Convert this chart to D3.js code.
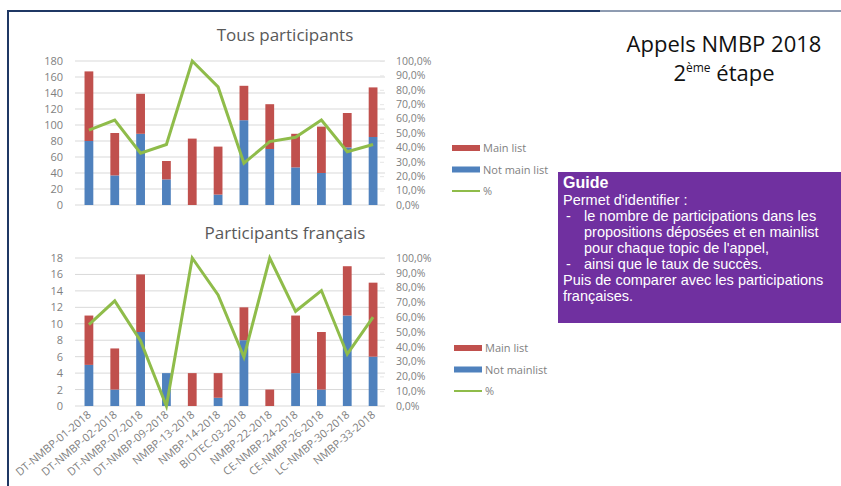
<!DOCTYPE html>
<html><head><meta charset="utf-8">
<script src="https://cdn.jsdelivr.net/npm/d3@7/dist/d3.min.js"></script>
<style>body{margin:0;background:#fff;}svg{display:block;}</style>
</head><body>
<svg id="c" width="841" height="486"></svg>
<script>
const categories = ["DT-NMBP-01-2018","DT-NMBP-02-2018","DT-NMBP-07-2018","DT-NMBP-09-2018","NMBP-13-2018","NMBP-14-2018","BIOTEC-03-2018","NMBP-22-2018","CE-NMBP-24-2018","CE-NMBP-26-2018","LC-NMBP-30-2018","NMBP-33-2018"];
// Tous participants
const allNotMain = [80, 37, 89, 32, 0, 13, 106, 70, 47, 40, 72, 85];
const allMain    = [87, 53, 50, 23, 83, 60, 43, 56, 42, 58, 43, 62];
const allPct     = [0.52, 0.59, 0.36, 0.42, 1.00, 0.82, 0.29, 0.44, 0.47, 0.59, 0.37, 0.42];
// Participants français
const frNotMain = [5, 2, 9, 4, 0, 1, 8, 0, 4, 2, 11, 6];
const frMain    = [6, 5, 7, 0, 4, 3, 4, 2, 7, 7, 6, 9];
const frPct     = [0.55, 0.71, 0.44, 0.00, 1.00, 0.75, 0.33, 1.00, 0.64, 0.78, 0.35, 0.60];
const allTicks = [0,20,40,60,80,100,120,140,160,180];
const frTicks = [0,2,4,6,8,10,12,14,16,18];
const pctTicks = [0,0.1,0.2,0.3,0.4,0.5,0.6,0.7,0.8,0.9,1.0];

const svg = d3.select("#c");
const C = {red:"#c0504d", blue:"#4f81bd", green:"#8fbc4a", grid:"#d9d9d9", txt:"#7f7f7f"};
const FONT = "'Open Sans', sans-serif";

// frame
svg.append("line").attr("x1",7).attr("x2",600).attr("y1",11).attr("y2",11).attr("stroke","#1f3864").attr("stroke-width",2);
svg.append("line").attr("x1",600).attr("x2",841).attr("y1",11).attr("y2",11).attr("stroke","#1f3864").attr("stroke-width",1);
svg.append("line").attr("x1",8).attr("x2",8).attr("y1",10).attr("y2",486).attr("stroke","#1f3864").attr("stroke-width",2);

const x = d3.scaleBand().domain(categories).range([76,386]).paddingInner(0.66).paddingOuter(0.33);

function chart(o){
  const g = svg.append("g");
  const y = d3.scaleLinear().domain([0,o.max]).range([o.y0,o.y1]);
  const yp = d3.scaleLinear().domain([0,1]).range([o.y0,o.y1]);
  g.append("g").selectAll("line").data(o.ticks).join("line")
    .attr("x1",75).attr("x2",385).attr("y1",d=>y(d)).attr("y2",d=>y(d))
    .attr("stroke",C.grid).attr("stroke-width",1);
  const la = g.append("g").attr("transform","translate(66,0)")
    .call(d3.axisLeft(y).tickValues(o.ticks).tickSize(0).tickPadding(3));
  la.select(".domain").remove();
  la.selectAll("text").attr("fill",C.txt).style("font-family",FONT).style("font-size","11px");
  const ra = g.append("g").attr("transform","translate(380,0)")
    .call(d3.axisRight(yp).tickValues(pctTicks).tickSize(4).tickPadding(12)
      .tickFormat(d=>d3.format(".1f")(d*100).replace(".",",")+"%"));
  ra.select(".domain").remove();
  ra.selectAll("line").attr("stroke","#e6e6e6");
  ra.selectAll("text").attr("fill",C.txt).style("font-family",FONT).style("font-size","10.5px").attr("text-anchor","start");
  const data = categories.map((c,i)=>({c, nm:o.nm[i], m:o.m[i], p:o.p[i]}));
  g.append("g").selectAll("rect").data(data).join("rect")
    .attr("x",d=>x(d.c)).attr("width",x.bandwidth())
    .attr("y",d=>y(d.nm)).attr("height",d=>y(0)-y(d.nm)).attr("fill",C.blue);
  g.append("g").selectAll("rect").data(data).join("rect")
    .attr("x",d=>x(d.c)).attr("width",x.bandwidth())
    .attr("y",d=>y(d.nm+d.m)).attr("height",d=>y(d.nm)-y(d.nm+d.m)).attr("fill",C.red);
  g.append("path").datum(data)
    .attr("d",d3.line().x(d=>x(d.c)+x.bandwidth()/2).y(d=>yp(d.p)))
    .attr("fill","none").attr("stroke",C.green).attr("stroke-width",3).attr("stroke-linejoin","miter");
  g.append("text").attr("x",285).attr("y",o.ty).attr("text-anchor","middle")
    .attr("fill","#595959").style("font-family",FONT).style("font-size","17px").text(o.title);
  const lg = g.append("g");
  o.leg.forEach((L,i)=>{
    const yy = o.ly + i*21.5;
    if (L.line) lg.append("line").attr("x1",o.lx).attr("x2",o.lx+28).attr("y1",yy).attr("y2",yy).attr("stroke",L.c).attr("stroke-width",2);
    else lg.append("rect").attr("x",o.lx).attr("y",yy-3).attr("width",28).attr("height",6).attr("fill",L.c);
    lg.append("text").attr("x",o.lx+31).attr("y",yy+4).attr("fill",C.txt)
      .style("font-family",FONT).style("font-size","11px").text(L.t);
  });
  return g;
}

chart({max:180, ticks:allTicks, y0:205, y1:61, nm:allNotMain, m:allMain, p:allPct,
  title:"Tous participants", ty:41, lx:452, ly:148,
  leg:[{t:"Main list",c:C.red},{t:"Not main list",c:C.blue},{t:"%",c:C.green,line:true}]});
chart({max:18, ticks:frTicks, y0:406, y1:258, nm:frNotMain, m:frMain, p:frPct,
  title:"Participants français", ty:239, lx:454, ly:348,
  leg:[{t:"Main list",c:C.red},{t:"Not mainlist",c:C.blue},{t:"%",c:C.green,line:true}]});

svg.append("g").selectAll("text").data(categories).join("text")
  .attr("transform",d=>`translate(${x(d)+x.bandwidth()/2+3},${416}) rotate(-40)`)
  .attr("text-anchor","end").attr("fill",C.txt)
  .style("font-family",FONT).style("font-size","11px").text(d=>d);

const h = svg.append("text").attr("x",724).attr("y",52).attr("text-anchor","middle")
  .style("font-family","'Open Sans', sans-serif").style("font-size","22px").attr("fill","#111");
h.text("Appels NMBP 2018");
const h2 = svg.append("text").attr("x",724).attr("y",81).attr("text-anchor","middle")
  .style("font-family","'Open Sans', sans-serif").style("font-size","22px").attr("fill","#111");
h2.append("tspan").text("2");
h2.append("tspan").attr("dy",-9).style("font-size","12px").text("ème");
h2.append("tspan").attr("dy",9).text(" étape");

svg.append("rect").attr("x",558).attr("y",172).attr("width",290).attr("height",151).attr("fill","#7030a0");
const guide = [
  {t:"Guide", x:563, y:188, b:true, s:16},
  {t:"Permet d'identifier :", x:563, y:205},
  {t:"-", x:566, y:221},
  {t:"le nombre de participations dans les", x:584, y:221},
  {t:"propositions déposées et en mainlist", x:584, y:237},
  {t:"pour chaque topic de l'appel,", x:584, y:253},
  {t:"-", x:566, y:269},
  {t:"ainsi que le taux de succès.", x:584, y:269},
  {t:"Puis de comparer avec les participations", x:563, y:285},
  {t:"françaises.", x:563, y:301}
];
svg.append("g").selectAll("text").data(guide).join("text")
  .attr("x",d=>d.x).attr("y",d=>d.y).attr("fill","#fff")
  .style("font-family","'Liberation Sans', Arial, sans-serif")
  .style("font-size",d=>(d.s||14.5)+"px").style("font-weight",d=>d.b?"bold":"normal").text(d=>d.t);
</script>
</body></html>
